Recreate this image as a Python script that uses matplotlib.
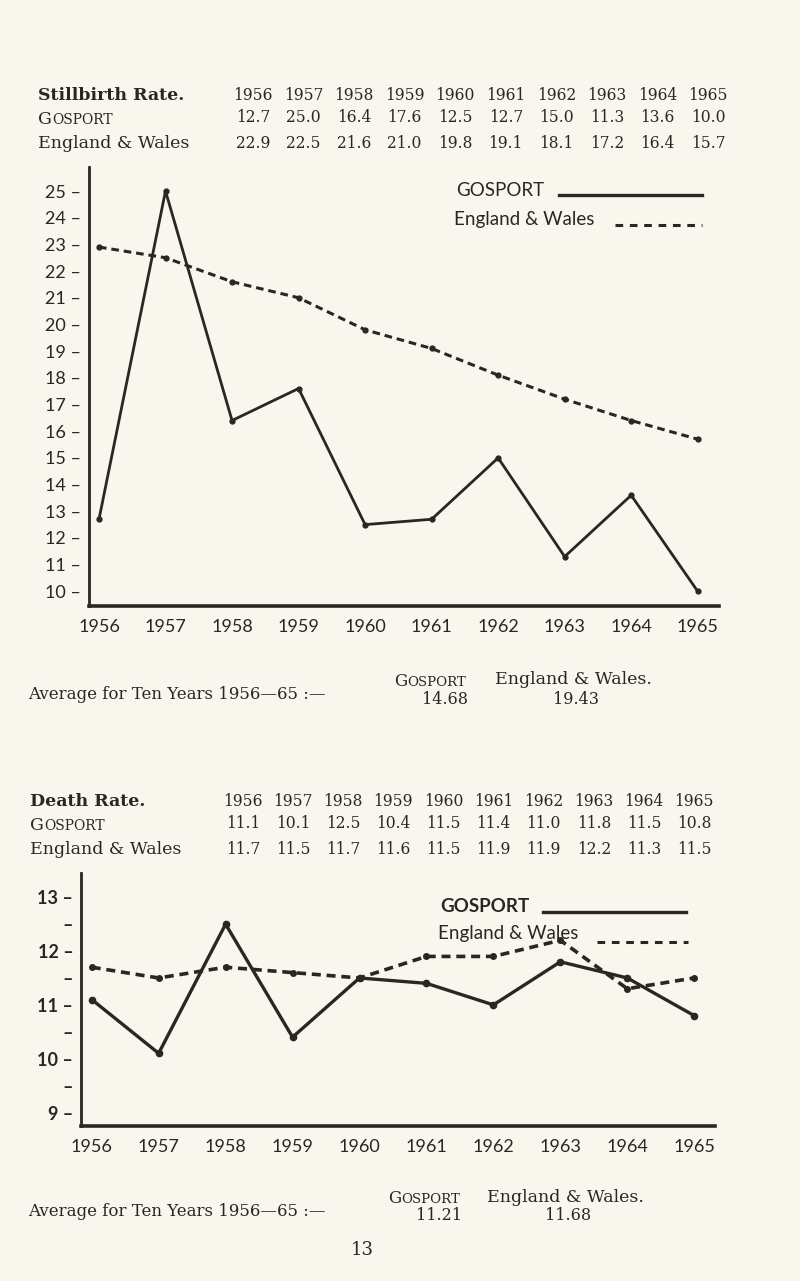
import matplotlib
matplotlib.use("Agg")
import matplotlib.pyplot as plt
from matplotlib.lines import Line2D

# ---- data ----
years = [1956, 1957, 1958, 1959, 1960, 1961, 1962, 1963, 1964, 1965]

still_gosport = [12.7, 25.0, 16.4, 17.6, 12.5, 12.7, 15.0, 11.3, 13.6, 10.0]
still_ew = [22.9, 22.5, 21.6, 21.0, 19.8, 19.1, 18.1, 17.2, 16.4, 15.7]
still_avg = ["14.68", "19.43"]

death_gosport = [11.1, 10.1, 12.5, 10.4, 11.5, 11.4, 11.0, 11.8, 11.5, 10.8]
death_ew = [11.7, 11.5, 11.7, 11.6, 11.5, 11.9, 11.9, 12.2, 11.3, 11.5]
death_avg = ["11.21", "11.68"]

still_ticks = list(range(10, 26))
death_ticks = [9, 10, 11, 12, 13]
death_minor = [9.5, 10.5, 11.5, 12.5]

INK = "#2b2623"
PAPER = "#f9f6ed"
SERIF = "DejaVu Serif"
SANS = "Lato"

W, H = 800, 1281
fig = plt.figure(figsize=(W / 100, H / 100), dpi=100, facecolor=PAPER)


def fx(px):
    return px / W


def fy(py):
    return 1 - py / H


def smallcaps(x, y, word, size):
    # fake small caps: first letter full size, rest smaller
    t = fig.text(fx(x), fy(y), word[0], fontsize=size, family=SERIF,
                 color=INK, va="baseline")
    fig.canvas.draw()
    bb = t.get_window_extent()
    fig.text(bb.x1 / W, fy(y), word[1:].upper(), fontsize=size * 0.8,
             family=SERIF, color=INK, va="baseline")


def table(title, y0, xl, x0, x1, row_g, row_e):
    fig.text(fx(xl), fy(y0), title, fontsize=12.5, family=SERIF,
             weight="bold", color=INK, va="center")
    step = (x1 - x0) / (len(years) - 1)
    for i, yr in enumerate(years):
        xc = fx(x0 + i * step)
        fig.text(xc, fy(y0), str(yr), fontsize=11.2, family=SERIF,
                 color=INK, ha="center", va="center")
        fig.text(xc, fy(y0 + 23), f"{row_g[i]:.1f}", fontsize=11.2,
                 family=SERIF, color=INK, ha="center", va="center")
        fig.text(xc, fy(y0 + 48), f"{row_e[i]:.1f}", fontsize=11.2,
                 family=SERIF, color=INK, ha="center", va="center")
    smallcaps(xl, y0 + 29, "Gosport", 12.5)
    fig.text(fx(xl), fy(y0 + 48), "England & Wales", fontsize=12.5,
             family=SERIF, color=INK, va="center")


def averages(y0, xg, xe, vals):
    fig.text(fx(28), fy(y0 + 14), "Average for Ten Years 1956\u201465 :\u2014",
             fontsize=12, family=SERIF, color=INK, va="center")
    smallcaps(xg, y0 + 6, "Gosport", 12)
    fig.text(fx(xg + 51), fy(y0 + 19), vals[0], fontsize=11.5, family=SERIF,
             color=INK, ha="center", va="center")
    fig.text(fx(xe), fy(y0), "England & Wales.", fontsize=12.5, family=SERIF,
             color=INK, va="center")
    fig.text(fx(xe + 81), fy(y0 + 19), vals[1], fontsize=11.5, family=SERIF,
             color=INK, ha="center", va="center")


def legend(xt, yg, ye, g_line, e_line, bold):
    wt = "bold" if bold else "normal"
    fig.text(fx(xt), fy(yg), "GOSPORT", fontsize=13.5, family=SANS,
             weight=wt, color=INK, va="center")
    fig.text(fx(xt - 2), fy(ye), "England & Wales", fontsize=13.5,
             family=SANS, color=INK, va="center")
    fig.add_artist(Line2D([fx(g_line[0]), fx(g_line[1])],
                          [fy(g_line[2]), fy(g_line[2])],
                          transform=fig.transFigure, color=INK, lw=2.4))
    fig.add_artist(Line2D([fx(e_line[0]), fx(e_line[1])],
                          [fy(e_line[2]), fy(e_line[2])],
                          transform=fig.transFigure, color=INK, lw=2.2,
                          dashes=(2.5, 2.2)))


def style_axes(ax, bold):
    for s in ["top", "right"]:
        ax.spines[s].set_visible(False)
    ax.spines["left"].set_linewidth(2.0)
    ax.spines["bottom"].set_linewidth(2.6)
    ax.spines["left"].set_color(INK)
    ax.spines["bottom"].set_color(INK)
    ax.set_facecolor("none")
    ax.set_xticks(years)
    ax.set_xticklabels([str(y) for y in years], fontsize=13, family=SANS,
                       color=INK)
    ax.tick_params(axis="x", length=0, pad=9)
    ax.tick_params(axis="y", which="both", length=0, pad=5.5)
    for lab in ax.get_yticklabels(which="both"):
        lab.set_family(SANS)
        lab.set_fontsize(13)
        lab.set_color(INK)
        if bold:
            lab.set_weight("bold")


# ---- Stillbirth rate ----
table("Stillbirth Rate.", 95, 38, 253, 708, still_gosport, still_ew)

ax1 = fig.add_axes([fx(89), fy(606), fx(719) - fx(89), fy(167) - fy(606)])
ax1.plot(years, still_gosport, color=INK, lw=2, marker="o", ms=3.5)
ax1.plot(years, still_ew, color=INK, lw=2.2, dashes=(2.5, 1.6),
         marker="o", ms=3.5)
ax1.set_xlim(1955.85, 1965.32)
ax1.set_ylim(9.45, 25.9)
ax1.set_yticks(still_ticks)
ax1.set_yticklabels([f"{v} \u2013" for v in still_ticks])
style_axes(ax1, False)
legend(456, 191, 219, (559, 702, 195), (615, 702, 225), False)

averages(680, 394, 495, still_avg)

# ---- Death rate ----
table("Death Rate.", 801, 30, 243, 694, death_gosport, death_ew)

ax2 = fig.add_axes([fx(81), fy(1126), fx(715) - fx(81), fy(873) - fy(1126)])
ax2.plot(years, death_gosport, color=INK, lw=2.4, marker="o", ms=4.5)
ax2.plot(years, death_ew, color=INK, lw=2.6, dashes=(2.5, 1.6),
         marker="o", ms=4)
ax2.set_xlim(1955.84, 1965.31)
ax2.set_ylim(8.75, 13.45)
ax2.set_yticks(death_ticks)
ax2.set_yticklabels([f"{v} \u2013" for v in death_ticks])
ax2.set_yticks(death_minor, minor=True)
ax2.set_yticklabels(["\u2013"] * len(death_minor), minor=True)
style_axes(ax2, True)
legend(440, 906, 933, (543, 686, 912), (597, 688, 942), True)

averages(1197, 388, 487, death_avg)

fig.text(fx(362), fy(1250), "13", fontsize=13, family=SERIF, color=INK,
         ha="center", va="center")

fig.savefig("out.png", dpi=100, facecolor=PAPER)
